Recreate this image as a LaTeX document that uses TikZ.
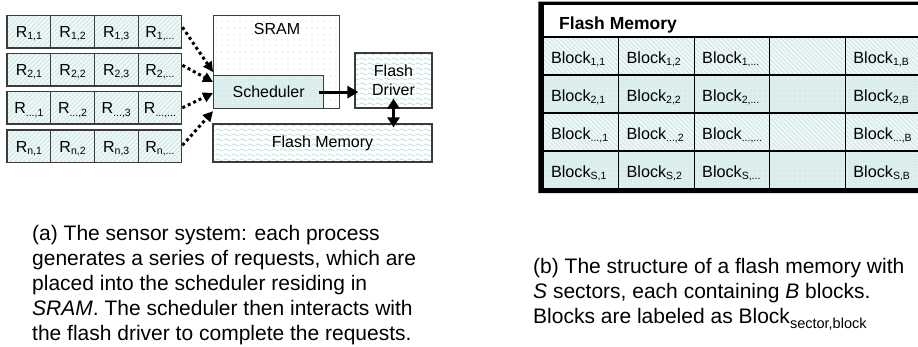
\documentclass[tikz,border=0pt]{standalone}
\usepackage{fontspec}
\setmainfont{Liberation Sans}
\usetikzlibrary{arrows.meta,patterns,patterns.meta}

\definecolor{tealwash}{RGB}{216,236,236}
\definecolor{tealdot}{RGB}{170,212,212}
\definecolor{tealwave}{RGB}{180,220,220}
\definecolor{edgegray}{RGB}{60,60,60}

\newcommand{\etcdots}{...}
% subscript index used in the cells
\newcommand{\lowidx}[1]{\raisebox{-2.5pt}{\fontsize{10.5}{10.5}\selectfont #1}}
% subscript index used in the caption text
\newcommand{\capidx}[1]{\raisebox{-5pt}{\fontsize{14.5}{14.5}\selectfont #1}}

% soft wave texture for the flash boxes
\pgfdeclarepatternformonly{softwaves}{\pgfpointorigin}{\pgfpoint{8pt}{5pt}}{\pgfpoint{8pt}{5pt}}{%
  \pgfsetlinewidth{0.7pt}%
  \pgfpathmoveto{\pgfpoint{0pt}{2.5pt}}%
  \pgfpathcurveto{\pgfpoint{1.5pt}{4pt}}{\pgfpoint{2.5pt}{4pt}}{\pgfpoint{4pt}{2.5pt}}%
  \pgfpathcurveto{\pgfpoint{5.5pt}{1pt}}{\pgfpoint{6.5pt}{1pt}}{\pgfpoint{8pt}{2.5pt}}%
  \pgfusepath{stroke}}

\begin{document}
\begin{tikzpicture}[x=1pt,y=-1pt,
  rcell/.style={draw=edgegray, line width=1.2pt, minimum width=43.7pt, minimum height=32.5pt,
    inner sep=0pt, text height=11.5pt, text depth=0pt, font=\fontsize{16}{19}\selectfont,
    preaction={fill=tealwash}, pattern={Lines[angle=45,distance=3.2pt,line width=0.9pt]},
    pattern color=white},
  sramstyle/.style={draw=edgegray, line width=1.2pt, inner sep=0pt, preaction={fill=white},
    pattern={Dots[distance=6pt,radius=0.6pt]}, pattern color=tealdot},
  schedstyle/.style={draw=edgegray, line width=1.2pt, font=\fontsize{16}{19}\selectfont,
    preaction={fill=tealwash}, pattern={Dots[distance=2.5pt,radius=0.45pt]},
    pattern color=white},
  wavebox/.style={draw=edgegray, line width=1.2pt, font=\fontsize{16}{19.4}\selectfont,
    align=center, preaction={fill=white}, pattern=softwaves, pattern color=tealwave},
  tcell/.style={draw=black, line width=1.2pt, minimum width=75.6pt, minimum height=38pt,
    inner xsep=8pt, inner ysep=0pt, text width=59.6pt, align=left, text height=14pt,
    text depth=0pt, font=\fontsize{16.2}{19}\selectfont},
  hatchrow/.style={tcell, preaction={fill=tealwash},
    pattern={Lines[angle=-45,distance=3.2pt,line width=0.9pt]}, pattern color=white},
  plainrow/.style={tcell, preaction={fill=tealwash},
    pattern={Dots[distance=2.5pt,radius=0.45pt]}, pattern color=white},
  dotarrow/.style={line width=3pt, dash pattern=on 3pt off 3pt,
    -{Triangle[length=10pt,width=10pt]}},
  solidarrow/.style={line width=3pt, -{Triangle[length=11pt,width=12pt]}},
  bothway/.style={line width=3pt, {Triangle[length=10pt,width=12pt]}-{Triangle[length=10pt,width=12pt]}},
  captext/.style={anchor=base west, inner sep=0pt, font=\fontsize{21}{25}\selectfont}
]
\path[use as bounding box] (0,0) rectangle (918,346);
\clip (0,0) rectangle (918,346);

% ---- request queues of the processes ----
\foreach \r/\yc/\lab in {1/31.7/1, 2/69.7/2, 3/107.8/\etcdots, 4/146.3/n} {
  \foreach \c/\xc/\clab in {1/28.85/1, 2/72.55/2, 3/116.25/3, 4/159.95/\etcdots} {
    \node[rcell] (r\r\c) at (\xc,\yc) {R\lowidx{\lab,\clab}};
  }
}

% ---- SRAM with the scheduler ----
\node[sramstyle, anchor=north west, minimum width=126pt, minimum height=93pt] (sram) at (213,15) {};
\node[font=\fontsize{16}{19}\selectfont] (sramlabel) at (277,29) {SRAM};
\node[schedstyle, anchor=north west, minimum width=110pt, minimum height=33pt] (sch) at (213,75) {Scheduler};

% ---- flash driver and flash memory ----
\node[wavebox, minimum width=77pt, minimum height=55pt] (drv) at (393.5,80.5) {Flash\\Driver};
\node[wavebox, minimum width=219pt, minimum height=38pt] (fmem) at (322.5,143) {Flash Memory};

% ---- connectors ----
\coordinate (in1) at ([yshift=3pt]sch.north west);
\coordinate (in2) at ([yshift=-7pt]sch.north west);
\coordinate (in3) at ([yshift=-18pt]sch.north west);
\coordinate (in4) at ([yshift=-2pt]sch.south west);
\draw[dotarrow] ([yshift=4.5pt]r14.east) -- (in1);
\draw[dotarrow] ([yshift=4.5pt]r24.east) -- (in2);
\draw[dotarrow] (r34.east) -- (in3);
\draw[dotarrow] ([yshift=1pt]r44.east) -- (in4);
\draw[solidarrow] ([xshift=-5pt]sch.east) -- ([xshift=4pt]sch.east -| drv.west);
\draw[bothway] ([yshift=10pt]drv.south) -- ([yshift=-4pt]drv.south |- fmem.north);

% ---- flash memory layout: sectors and blocks ----
\node[draw=black, line width=1.2pt, fill=white, anchor=north west, minimum width=378pt,
  minimum height=33pt, inner sep=0pt] (fhead) at (543,4) {};
\node[anchor=base west, inner sep=0pt, font=\fontsize{17.5}{20}\selectfont\bfseries] (ftitle) at (559,29.3) {Flash Memory};
\foreach \r/\yc/\lab/\sty in {1/56/1/hatchrow, 2/94/2/plainrow, 3/132/\etcdots/hatchrow, 4/170/S/plainrow} {
  \foreach \c/\xc/\clab in {1/580.8/1, 2/656.4/2, 3/732/\etcdots, 5/883.2/B} {
    \node[\sty] (b\r\c) at (\xc,\yc) {Block\lowidx{\lab,\clab}};
  }
  \node[\sty] (b\r4) at (807.6,\yc) {};
}
% heavy outer frame
\fill[black, even odd rule] (538.3,1.5) rectangle (925,193) (543,4) rectangle (925,189);

% ---- captions ----
\node[captext] (ca1) at (32,240.5) {(a) The sensor system: each process};
\node[captext] (ca2) at (32,265.5) {generates a series of requests, which are};
\node[captext] (ca3) at (32,290.5) {placed into the scheduler residing in};
\node[captext] (ca4) at (32,315.5) {\textit{SRAM}. The scheduler then interacts with};
\node[captext] (ca5) at (32,340.5) {the flash driver to complete the requests.};

\node[captext] (cb1) at (533,273.3) {(b) The structure of a flash memory with};
\node[captext] (cb2) at (533,298.3) {\textit{S} sectors, each containing \textit{B} blocks.};
\node[captext] (cb3) at (533,323.3) {Blocks are labeled as Block\capidx{sector,block}};
\end{tikzpicture}
\end{document}
